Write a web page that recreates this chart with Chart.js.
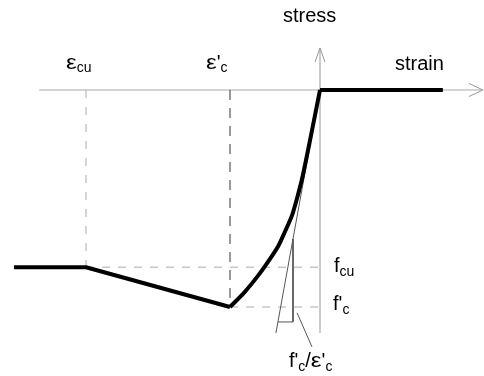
<!DOCTYPE html>
<html>
<head>
<meta charset="utf-8">
<script src="https://cdn.jsdelivr.net/npm/chart.js@4"></script>
<style>
  html, body { margin: 0; padding: 0; background: #fff; }
  #wrap { width: 484px; height: 376px; }
</style>
</head>
<body>
<div id="wrap"><canvas id="diagram"></canvas></div>
<script>
// strain in ‰ (compression negative), stress in MPa
const EPS_C = -2.0;    // ε'c
const EPS_CU = -5.2;   // εcu
const F_C = -30.0;     // f'c
const F_CU = -24.5;    // fcu

// ascending branch: origin -> peak (ε'c, f'c)
const riseStrain = [0, -0.22, -0.38, -0.49, -0.62, -0.78, -0.93, -1.16, -1.38, -1.67, EPS_C];
const riseStress = [0, -6.9, -11.75, -14.5, -17.3, -19.6, -21.6, -23.8, -25.7, -27.9, F_C];

// softening branch down to εcu, then flat
const fallStrain = [EPS_C, EPS_CU, -6.8];
const fallStress = [F_C, F_CU, F_CU];

// tension side, no stress
const tensionStrain = [0, 2.73];
const tensionStress = [0, 0];

// initial tangent and its slope triangle
const tangentStrain = [0, -0.98];
const tangentStress = [0, -33.6];
const slopeStrain = [-0.6, -0.6, -0.935];
const slopeStress = [-20.6, -32.07, -32.07];

// leader from the slope triangle to its label
const leaderStrain = [-0.51, -0.18];
const leaderStress = [-30.8, -35.5];

// axis extents
const axisStrain = [-6.24, 3.62];
const axisStress = [-33.6, 5.81];

const pts = (xs, ys) => xs.map((x, i) => ({ x: x, y: ys[i] }));

function line(data, color, width, dash, extra) {
    return Object.assign({
        data: data,
        showLine: true,
        pointRadius: 0,
        borderColor: color,
        borderWidth: width,
        borderDash: dash || [],
        borderCapStyle: 'butt',
        borderJoinStyle: 'miter',
        tension: 0,
        fill: false,
        clip: false
    }, extra || {});
}

// axes with arrow heads
const xTip = axisStrain[1];
const yTip = axisStress[1];
const xArrow = [{ x: xTip - 0.31, y: 0.9 }, { x: xTip, y: 0 }, { x: xTip - 0.31, y: -0.9 }];
const yArrow = [{ x: -0.11, y: yTip - 1.94 }, { x: 0, y: yTip }, { x: 0.11, y: yTip - 1.94 }];

const datasets = [
    line(pts(riseStrain, riseStress), '#000', 4, null, { tension: 0.25, borderJoinStyle: 'round' }),
    line(pts(fallStrain, fallStress), '#000', 4, null, { borderJoinStyle: 'round' }),
    line(pts(tensionStrain, tensionStress), '#000', 4),
    line(pts(tangentStrain, tangentStress), '#555', 1),
    line(pts(slopeStrain, slopeStress), '#555', 1),
    line(pts(leaderStrain, leaderStress), '#555', 1),
    line([{ x: EPS_C, y: 0 }, { x: EPS_C, y: F_C }], '#333', 1, [10, 8]),
    line([{ x: EPS_CU, y: 0 }, { x: EPS_CU, y: F_CU }], '#aaa', 1, [8, 9]),
    line([{ x: EPS_CU, y: F_CU }, { x: 0, y: F_CU }], '#aaa', 1, [8, 8]),
    line([{ x: EPS_C, y: F_C }, { x: 0, y: F_C }], '#aaa', 1, [8, 8]),
    line([{ x: axisStrain[0], y: 0 }, { x: axisStrain[1], y: 0 }], '#aaa', 1),
    line([{ x: 0, y: axisStress[0] }, { x: 0, y: axisStress[1] }], '#999', 1),
    line(xArrow, '#999', 1),
    line(yArrow, '#999', 1)
];

// text labels: anchor in data coords plus pixel offset
// parts = [text, size, baseline shift, horizontal stretch]
const BIG = 20, SMALL = 14;
const EPS = ['ε', 21, 0, 1.15];
const labels = [
    { x: 0, y: 0, dx: -37, dy: -68, parts: [['stress', BIG, 0]] },
    { x: 0, y: 0, dx: 75, dy: -20, parts: [['strain', BIG, 0]] },
    { x: EPS_CU, y: 0, dx: -20, dy: -21, parts: [EPS, ['cu', SMALL, 3]] },
    { x: EPS_C, y: 0, dx: -24, dy: -21, parts: [EPS, ['\'', BIG, 0], ['c', SMALL, 3]] },
    { x: 0, y: F_CU, dx: 14, dy: 5, parts: [['f', BIG, 0], ['cu', SMALL, 4]] },
    { x: 0, y: F_C, dx: 13, dy: 3, parts: [['f\'', BIG, 0], ['c', SMALL, 4]] },
    { x: leaderStrain[1], y: leaderStress[1], dx: -23, dy: 20,
      parts: [['f\'', BIG, 0], ['c', SMALL, 4], ['/', BIG, 0], EPS, ['\'', BIG, 0], ['c', SMALL, 4]] }
];

const labelPlugin = {
    id: 'labels',
    afterDraw(chart) {
        const ctx = chart.ctx;
        const xs = chart.scales.x, ys = chart.scales.y;
        ctx.save();
        ctx.fillStyle = '#000';
        ctx.textBaseline = 'alphabetic';
        labels.forEach(l => {
            let px = xs.getPixelForValue(l.x) + l.dx;
            const py = ys.getPixelForValue(l.y) + l.dy;
            l.parts.forEach(p => {
                const sx = p[3] || 1;
                ctx.font = p[1] + "px 'Liberation Sans', Arial, sans-serif";
                ctx.save();
                ctx.translate(px, py + p[2]);
                ctx.scale(sx, 1);
                ctx.fillText(p[0], 0, 0);
                ctx.restore();
                px += ctx.measureText(p[0]).width * sx;
            });
        });
        ctx.restore();
    }
};

new Chart(document.getElementById('diagram'), {
    type: 'scatter',
    data: { datasets: datasets },
    options: {
        responsive: true,
        maintainAspectRatio: false,
        animation: false,
        layout: { padding: 0 },
        plugins: { legend: { display: false }, tooltip: { enabled: false } },
        scales: {
            x: { type: 'linear', display: false, min: -7.111, max: 3.644 },
            y: { type: 'linear', display: false, min: -39.54, max: 12.44 }
        }
    },
    plugins: [labelPlugin]
});
</script>
</body>
</html>
